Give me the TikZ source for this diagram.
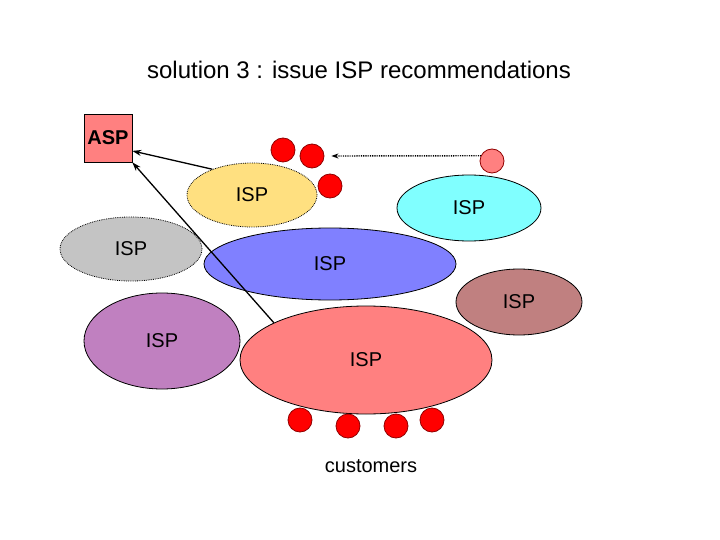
\documentclass[tikz,border=0pt]{standalone}
\usepackage{fontspec}
\setmainfont{Liberation Sans}
\usepackage{xcolor}
\usetikzlibrary{positioning,arrows.meta,shapes.geometric}
\definecolor{NetYellow}{HTML}{FFE080}
\definecolor{NetCyan}{HTML}{80FFFF}
\definecolor{NetGrey}{HTML}{C4C4C4}
\definecolor{NetBlue}{HTML}{8080FF}
\definecolor{NetBrown}{HTML}{C08080}
\definecolor{NetPurple}{HTML}{C080C0}
\definecolor{NetSalmon}{HTML}{FF8080}
\definecolor{CustRed}{HTML}{FF0000}
\definecolor{CustEdge}{HTML}{900000}

\begin{document}
\begin{tikzpicture}[x=1pt,y=-1pt]
  \tikzset{
    ispcloud/.style={
      ellipse,
      draw=black,
      line width=0.8pt,
      inner sep=0pt,
      font=\fontsize{20}{24}\selectfont
    },
    ispdotted/.style={ispcloud,densely dotted},
    custdot/.style={
      circle,
      draw=CustEdge,
      fill=CustRed,
      line width=0.8pt,
      minimum size=24pt,
      inner sep=0pt
    },
    aspbox/.style={
      rectangle,
      draw=black,
      line width=0.6pt,
      fill=NetSalmon,
      minimum size=48pt,
      inner sep=0pt,
      font=\fontsize{20}{24}\selectfont\bfseries
    },
    recarrow/.style={
      -{Stealth[length=9pt,width=6pt]},
      draw=black,
      line width=1.3pt
    },
    hintarrow/.style={
      -{Stealth[length=7pt,width=5pt]},
      draw=black,
      line width=1.4pt,
      dash pattern=on 0.9pt off 0.9pt
    },
    plaintext/.style={font=\fontsize{20}{24}\selectfont}
  }
  \useasboundingbox (0,0) rectangle (720,540);

  % title
  \node[font=\fontsize{24}{28}\selectfont] (title) at (359,70)
    {solution 3 : issue ISP recommendations};

  % ISP clouds
  \node[ispdotted,fill=NetYellow,minimum width=130pt,minimum height=64pt] (ispyellow) at (252,195) {ISP};
  \node[ispcloud,fill=NetCyan,minimum width=144pt,minimum height=66pt] (ispcyan) at (469,208) {ISP};
  \node[ispdotted,fill=NetGrey,minimum width=142pt,minimum height=64pt] (ispgrey) at (131,249) {ISP};
  \node[ispcloud,fill=NetBlue,minimum width=252pt,minimum height=72pt] (ispblue) at (330,264) {ISP};
  \node[ispcloud,fill=NetPurple,minimum width=156pt,minimum height=96pt] (isppurple) at (162,341) {ISP};
  \node[ispcloud,fill=NetSalmon,minimum width=252pt,minimum height=108pt] (ispmain) at (366,360) {ISP};
  \node[ispcloud,fill=NetBrown,minimum width=126pt,minimum height=66pt] (ispbrown) at (519,302) {ISP};

  % customers near the yellow ISP
  \node[custdot] (custa) at (283,150) {};
  \node[custdot] (custb) at (312,156) {};
  \node[custdot] (custc) at (330,186) {};
  \node[custdot,fill=NetSalmon] (custfar) at (492,161) {};

  % customers of the main ISP
  \node[custdot] (custd) at (300,420) {};
  \node[custdot] (custe) at (348,426) {};
  \node[custdot] (custf) at (396,426) {};
  \node[custdot] (custg) at (432,420) {};
  \node[plaintext] (custlabel) at (371,466) {customers};

  % service provider
  \node[aspbox] (asp) at (108,138) {ASP};

  % recommendations
  \draw[recarrow] (ispyellow.147) -- (asp.-28);
  \draw[recarrow] (ispmain.158) -- (asp.south east);
  \draw[hintarrow,shorten >=7pt] (custfar.155) -- (custb.east);
\end{tikzpicture}
\end{document}
